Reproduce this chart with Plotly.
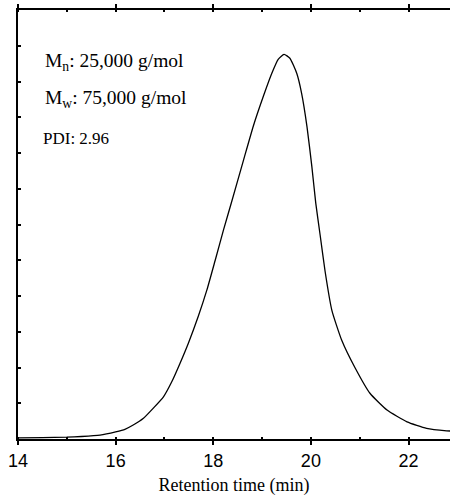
import plotly.graph_objects as go

# Retention time (min) and detector response (arbitrary units)
retention_time = [14.0, 14.5, 15.0, 15.3, 15.68, 16.0, 16.19, 16.36, 16.57, 16.77, 16.98,
                  17.15, 17.32, 17.49, 17.69, 17.87, 18.04, 18.21, 18.38, 18.62, 18.82,
                  19.03, 19.2, 19.33, 19.45, 19.57, 19.71, 19.81, 19.92, 20.02, 20.1,
                  20.19, 20.29, 20.43, 20.63, 20.91, 21.21, 21.56, 21.97, 22.37, 22.78, 22.9]
signal = [0.03, 0.04, 0.05, 0.07, 0.11, 0.2, 0.27, 0.39, 0.58, 0.86, 1.18,
          1.6, 2.12, 2.68, 3.42, 4.17, 5.0, 5.85, 6.65, 7.8, 8.75,
          9.6, 10.23, 10.62, 10.76, 10.65, 10.23, 9.67, 8.74, 7.62, 6.6,
          5.7, 4.7, 3.6, 2.77, 1.98, 1.28, 0.81, 0.48, 0.3, 0.23, 0.22]

x_tick_vals = [14, 16, 18, 20, 22]
x_tick_text = ["14", "16", "18", "20", "22"]

SERIF = "Liberation Serif, Times New Roman, serif"

fig = go.Figure()
fig.add_trace(go.Scatter(
    x=retention_time, y=signal, mode="lines",
    line=dict(color="black", width=1.3, shape="spline", smoothing=0.5),
    hoverinfo="skip", showlegend=False,
))

fig.update_layout(
    width=450, height=496,
    margin=dict(l=18, r=0, t=10, b=57),
    paper_bgcolor="white", plot_bgcolor="white",
    xaxis=dict(
        range=[14, 22.85], tickvals=x_tick_vals, ticktext=x_tick_text,
        showline=True, linecolor="black", linewidth=2, mirror="allticks",
        ticks="outside", ticklen=4, tickwidth=1.5, tickcolor="black",
        minor=dict(dtick=1, ticks="inside", ticklen=2, tickcolor="black", tickwidth=1.5),
        showgrid=False, zeroline=False,
        tickfont=dict(family="Liberation Sans, Arial, sans-serif", size=18, color="black"),
        title=dict(text="Retention time (min)", standoff=10,
                   font=dict(family=SERIF, size=18, color="black")),
    ),
    yaxis=dict(
        range=[0, 12], dtick=1, showticklabels=False,
        showline=True, linecolor="black", linewidth=2, mirror=False,
        ticks="inside", ticklen=3, tickwidth=1.5, tickcolor="black",
        showgrid=False, zeroline=False,
    ),
    annotations=[
        dict(text="M<sub>n</sub>: 25,000 g/mol", x=0.058, y=0.879, xref="paper", yref="paper",
             xanchor="left", yanchor="middle", showarrow=False,
             font=dict(family=SERIF, size=19.5, color="black")),
        dict(text="M<sub>w</sub>: 75,000 g/mol", x=0.058, y=0.7925, xref="paper", yref="paper",
             xanchor="left", yanchor="middle", showarrow=False,
             font=dict(family=SERIF, size=19.5, color="black")),
        dict(text="PDI: 2.96", x=0.053, y=0.7016, xref="paper", yref="paper",
             xanchor="left", yanchor="middle", showarrow=False,
             font=dict(family=SERIF, size=17, color="black")),
    ],
)

fig.write_html("out.html", config={"displayModeBar": False},
               post_script="document.body.style.margin='0';document.body.style.overflow='hidden';")
